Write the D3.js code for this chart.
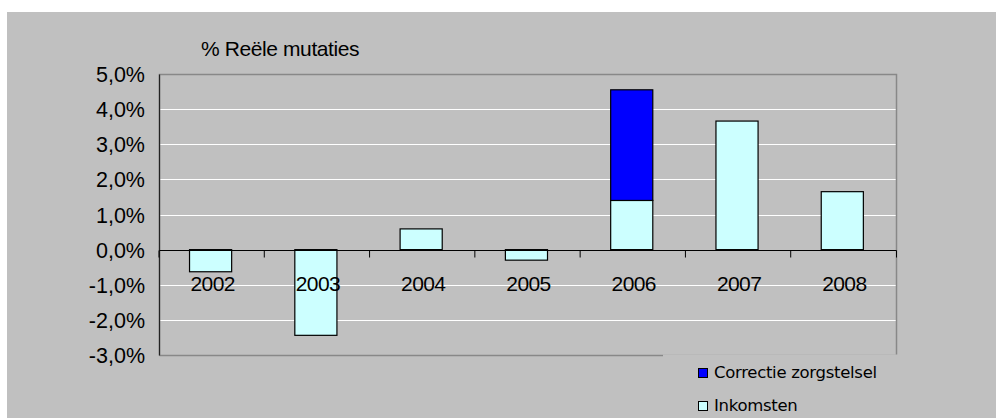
<!DOCTYPE html>
<html>
<head>
<meta charset="utf-8">
<script src="https://cdn.jsdelivr.net/npm/d3@7"></script>
<style>
  body { margin:0; background:#fff; }
  svg { display:block; }
</style>
</head>
<body>
<script>

var years = ["2002","2003","2004","2005","2006","2007","2008"];
var inkomsten = [-0.63,-2.44,0.59,-0.30,1.40,3.66,1.65];
var correctie = [0,0,0,0,3.15,0,0];
var yTicks = [-3,-2,-1,0,1,2,3,4,5];
var seriesNames = ["Correctie zorgstelsel","Inkomsten"];
var title = "% Reële mutaties";

var rows = years.map(function(y,i){
  return {year:y, inkomsten:inkomsten[i], correctie:correctie[i]};
});

var drawChart = function(width,height)
{
  var margins = {top:74, left:159, right:100, bottom:64};
  var colors = {inkomsten:"#CCFFFF", correctie:"#0000FF"};

  var xScale = d3.scaleBand()
                .domain(years)
                .range([margins.left,width-margins.right])
                .paddingInner(0).paddingOuter(0);
  var yScale = d3.scaleLinear()
                .domain([-3,5])
                .range([height-margins.bottom,margins.top]);

  var svg = d3.select("body")
      .append("svg")
      .attr("width",width)
      .attr("height",height);

  svg.append("rect")
     .attr("x",7).attr("y",12)
     .attr("width",width-7).attr("height",height-13)
     .attr("fill","#C0C0C0");

  // gridlines
  svg.append("g").selectAll("line")
     .data(yTicks.filter(function(d){return d!=0 && d!=5 && d!=-3;}))
     .enter().append("line")
     .attr("x1",margins.left).attr("x2",xScale.range()[1])
     .attr("y1",function(d){return Math.round(yScale(d))+0.5;})
     .attr("y2",function(d){return Math.round(yScale(d))+0.5;})
     .attr("stroke","#fff").attr("stroke-width",1);

  // frame
  var x0 = margins.left+0.5, x1 = Math.round(xScale.range()[1])+0.5;
  var yt = Math.round(yScale(5))+0.5, yb = Math.round(yScale(-3))+0.5;
  svg.append("path")
     .attr("d","M"+x0+","+yb+"V"+yt+"H"+x1+"V"+yb+"H"+x0)
     .attr("fill","none").attr("stroke","#888").attr("stroke-width",1.5);

  // stacked bars
  var stack = d3.stack().keys(["inkomsten","correctie"]).offset(d3.stackOffsetDiverging);
  var layers = stack(rows);
  var bw = xScale.bandwidth();

  svg.append("g").selectAll("g")
     .data(layers)
     .enter().append("g")
     .attr("fill",function(d){return colors[d.key];})
     .selectAll("rect")
     .data(function(d){return d.filter(function(p){return p[1]!=p[0];});})
     .enter().append("rect")
     .attr("x",function(d){return xScale(d.data.year)+bw*0.29;})
     .attr("width",bw*0.4)
     .attr("y",function(d){return yScale(Math.max(d[0],d[1]));})
     .attr("height",function(d){return Math.abs(yScale(d[0])-yScale(d[1]));})
     .attr("stroke","#000").attr("stroke-width",1.2);

  // left axis line
  svg.append("line")
     .attr("x1",x0).attr("x2",x0).attr("y1",yt).attr("y2",yb)
     .attr("stroke","#222").attr("stroke-width",1.2);

  // zero axis with ticks
  var xAxis = d3.axisBottom(xScale).tickSize(7).tickFormat("");
  var zero = svg.append("g")
     .attr("transform","translate(0,"+(Math.round(yScale(0))+0.5)+")")
     .call(xAxis);
  zero.select(".domain").attr("d","M"+x0+",0H"+x1+"V7").attr("stroke","#000");
  zero.selectAll(".tick line")
      .attr("transform","translate("+(-bw/2)+",0)")
      .attr("stroke","#000");

  // category labels
  svg.append("g").selectAll("text")
     .data(years)
     .enter().append("text")
     .attr("x",function(d){return xScale(d)+bw/2+1;})
     .attr("y",yScale(0)+41)
     .attr("text-anchor","middle")
     .attr("font-family","'Liberation Sans',Arial,sans-serif")
     .attr("font-size","21px")
     .attr("letter-spacing","-0.6px")
     .attr("fill","#000")
     .text(function(d){return d;});

  // y labels
  svg.append("g").selectAll("text")
     .data(yTicks)
     .enter().append("text")
     .attr("x",145)
     .attr("y",function(d){return yScale(d)+8;})
     .attr("text-anchor","end")
     .attr("font-family","'Liberation Sans',Arial,sans-serif")
     .attr("font-size","21.5px")
     .attr("fill","#000")
     .text(function(d){return d3.format(".1f")(d).replace(".",",").replace("\u2212","-")+"%";});

  svg.append("text")
     .attr("x",201).attr("y",56)
     .attr("font-family","'Liberation Sans',Arial,sans-serif")
     .attr("font-size","21px")
     .attr("letter-spacing","-0.4px")
     .text(title);

  // legend (covers the frame bottom on the right)
  var legend = svg.append("g").classed("legend",true);
  legend.append("rect")
        .attr("x",663).attr("y",yb-1)
        .attr("width",width-663).attr("height",height-yb)
        .attr("fill","#C0C0C0");
  var legendLines = legend.selectAll("g.legendLine")
        .data(seriesNames)
        .enter().append("g")
        .classed("legendLine",true)
        .attr("transform",function(d,i){return "translate(698,"+(368+i*33)+")";});
  legendLines.append("rect")
        .attr("x",0.5).attr("y",0.5)
        .attr("width",9).attr("height",9)
        .attr("fill",function(d,i){return i==0?colors.correctie:colors.inkomsten;})
        .attr("stroke","#000");
  legendLines.append("text")
        .attr("x",16).attr("y",10)
        .attr("font-family","'DejaVu Sans',Verdana,sans-serif")
        .attr("font-size","16.5px")
        .attr("letter-spacing","-0.3px")
        .text(function(d){return d;});
}

drawChart(996,419);

</script>
</body>
</html>
